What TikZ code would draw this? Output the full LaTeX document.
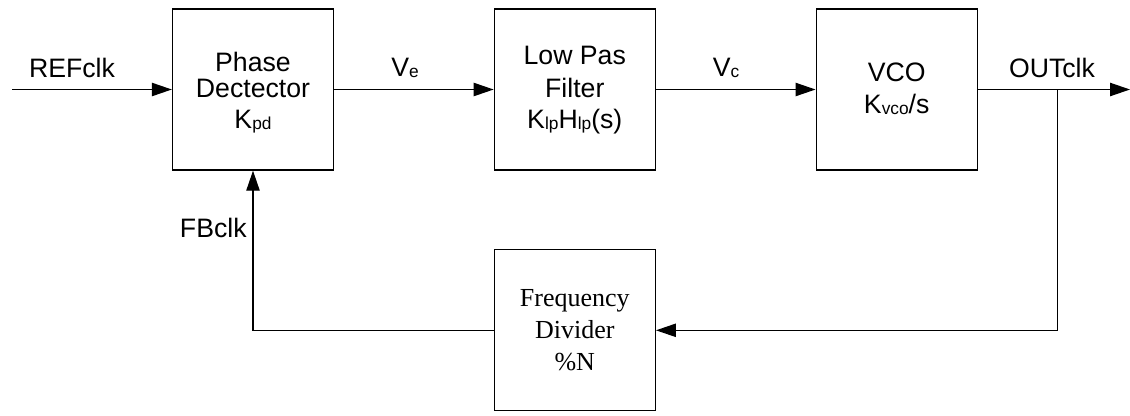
\documentclass[tikz,border=0pt]{standalone}
\usepackage{fontspec}
\setmainfont{Liberation Sans}
\newfontfamily\timesf{Liberation Serif}
\usetikzlibrary{arrows.meta}
\newcommand\sbs[1]{\raisebox{-0.8pt}{\fontsize{13}{13}\selectfont #1}}
\begin{document}
\begin{tikzpicture}[x=0.75pt,y=-0.75pt,
  line width=1pt,
  blk/.style={draw=black, line width=1pt, rectangle, minimum width=120.75pt, minimum height=120.75pt, inner sep=0pt},
  txt/.style={anchor=base, inner sep=0pt, font=\fontsize{20}{24}\selectfont},
  serif/.style={anchor=base, inner sep=0pt, font=\timesf\fontsize{19.5}{24}\selectfont},
  arr/.style={-{Triangle[length=15pt,width=10pt]}, line width=1pt}]
\useasboundingbox (0,0) rectangle (1130,415);
\fill[white] (0,0) rectangle (1130,415);

% blocks
\node[blk] (pd)  at (253,89.5) {};
\node[blk] (lpf) at (574.8,89.5) {};
\node[blk] (vco) at (896.7,89.5) {};
\node[blk] (fd)  at (574.8,330.3) {};

% block texts
\node[txt] (pd1) at (253,71) {Phase};
\node[txt] (pd2) at (253,97.5) {Dectector};
\node[txt] (pd3) at (253,128) {K\sbs{pd}};

\node[txt] (lp1) at (574.8,64) {Low Pas};
\node[txt] (lp2) at (574.8,97.5) {Filter};
\node[txt] (lp3) at (574.8,128.5) {K\sbs{lp}H\sbs{lp}(s)};

\node[txt] (vc1) at (896.7,81.5) {VCO};
\node[txt] (vc2) at (896.7,113.5) {K\sbs{vco}/s};

\node[serif] (fd1) at (574.8,306.7) {Frequency};
\node[serif] (fd2) at (574.8,338.7) {Divider};
\node[serif] (fd3) at (574.8,370.7) {\%N};

% signal labels
\node[txt] (lref) at (72,77.5) {REFclk};
\node[txt] (lve)  at (405,76) {V\sbs{e}};
\node[txt] (lvc)  at (726,76.5) {V\sbs{c}};
\node[txt] (lout) at (1052,77.3) {OUTclk};
\node[txt] (lfb)  at (213.3,237.3) {FBclk};

% connectors
\coordinate (in)  at (12,89.5);
\coordinate (out) at (1130,89.5);
\coordinate (br)  at (1057.5,89.5);
\draw[arr] (in) -- (pd.west);
\draw[arr] (pd.east) -- (lpf.west);
\draw[arr] (lpf.east) -- (vco.west);
\draw[arr] (vco.east) -- (out);
\draw[arr] (br) |- (fd.east);
\draw[arr] (fd.west) -| (pd.south);
\end{tikzpicture}
\end{document}
